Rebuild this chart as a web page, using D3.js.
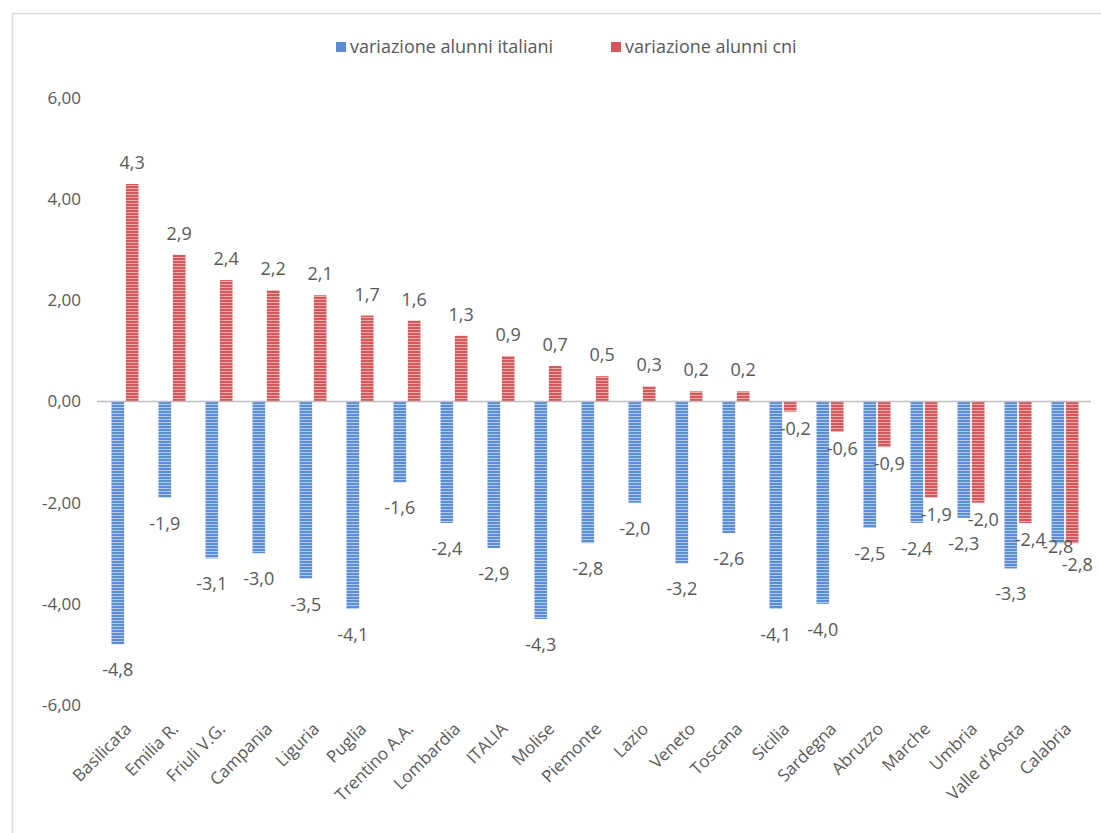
<!DOCTYPE html>
<html>
<head>
<meta charset="utf-8">
<script src="https://cdn.jsdelivr.net/npm/d3@7"></script>
<style>
  body { margin: 0; background: #fff; }
  text { font-family: "Open Sans", sans-serif; fill: #595959; }
</style>
</head>
<body>
<div class="chart"></div>
<script>
var width = 1101
var height = 833

var regioni = ['Basilicata', 'Emilia R.', 'Friuli V.G.', 'Campania', 'Liguria', 'Puglia', 'Trentino A.A.',
    'Lombardia', 'ITALIA', 'Molise', 'Piemonte', 'Lazio', 'Veneto', 'Toscana', 'Sicilia', 'Sardegna',
    'Abruzzo', 'Marche', 'Umbria', "Valle d'Aosta", 'Calabria']
var italiani = [-4.8, -1.9, -3.1, -3.0, -3.5, -4.1, -1.6, -2.4, -2.9, -4.3, -2.8, -2.0, -3.2, -2.6, -4.1, -4.0, -2.5, -2.4, -2.3, -3.3, -2.8]
var cni = [4.3, 2.9, 2.4, 2.2, 2.1, 1.7, 1.6, 1.3, 0.9, 0.7, 0.5, 0.3, 0.2, 0.2, -0.2, -0.6, -0.9, -1.9, -2.0, -2.4, -2.8]
var serieNomi = ['variazione alunni italiani', 'variazione alunni cni']
var yTicks = [-6, -4, -2, 0, 2, 4, 6]

var svg = d3.select('.chart').append('svg')
    .attr('width', width)
    .attr('height', height)

// strisce orizzontali come nel grafico excel
var defs = svg.append('defs')
var colori = [['#5a8dd6', '#b3cbef'], ['#d6575a', '#f0a9aa']]
colori.forEach(function (c, i) {
    var p = defs.append('pattern')
        .attr('id', 'strisce' + i)
        .attr('patternUnits', 'userSpaceOnUse')
        .attr('width', 4).attr('height', 3)
    p.append('rect').attr('width', 4).attr('height', 3).attr('fill', c[0])
    p.append('rect').attr('y', 2).attr('width', 4).attr('height', 1).attr('fill', c[1])
})

// cornice
svg.append('path')
    .attr('d', 'M12.5,' + height + 'V13.5H' + width)
    .attr('fill', 'none')
    .attr('stroke', '#d9d9d9')
    .attr('stroke-width', 1.5)

var y = d3.scaleLinear().domain([-6, 6]).range([705, 98])
var x = d3.scaleBand().domain(regioni).range([101, 1088]).paddingInner(0).paddingOuter(0)
var x1 = d3.scaleBand().domain([0, 1]).range([x.bandwidth() / 2 - 13, x.bandwidth() / 2 + 14]).paddingInner(0.12)

var fmt = function (v, d) { return v.toFixed(d).replace('.', ',') }

// asse y (solo etichette)
svg.append('g')
    .attr('transform', 'translate(81,0)')
    .call(d3.axisLeft(y).tickValues(yTicks).tickSize(0).tickPadding(0).tickFormat(function (d) { return fmt(d, 2) }))
    .call(function (g) { g.select('.domain').remove() })
    .selectAll('text')
    .attr('font-size', 17)
    .style('font-family', '"Open Sans", sans-serif')
    .attr('fill', '#595959')

var serie = [italiani, cni]
serie.forEach(function (vals, s) {
    var g = svg.append('g')
    g.selectAll('rect')
        .data(vals)
        .enter()
        .append('rect')
        .attr('x', function (d, i) { return x(regioni[i]) + x1(s) })
        .attr('width', x1.bandwidth())
        .attr('y', function (d) { return y(Math.max(0, d)) })
        .attr('height', function (d) { return Math.abs(y(d) - y(0)) })
        .attr('fill', 'url(#strisce' + s + ')')
})

// linea dello zero
svg.append('line')
    .attr('x1', 97).attr('x2', 1091)
    .attr('y1', y(0)).attr('y2', y(0))
    .attr('stroke', '#bfbfbf')
    .attr('stroke-width', 1.5)

// etichette dei valori
var scostNeg = [32, 23]
var ultimo = regioni.length - 1
serie.forEach(function (vals, s) {
    svg.append('g').selectAll('text')
        .data(vals)
        .enter()
        .append('text')
        .attr('x', function (d, i) { return x(regioni[i]) + x1(s) + x1.bandwidth() / 2 + (s === 1 && d < 0 ? 5 : 0) })
        .attr('y', function (d, i) {
            if (d >= 0) return y(d) - 15
            // Calabria: etichette spostate come nell'originale
            if (i === ultimo) return y(d) + (s === 0 ? 10 : 28)
            return y(d) + scostNeg[s]
        })
        .attr('text-anchor', 'middle')
        .attr('font-size', 18)
        .text(function (d) { return fmt(d, 1) })
})

// etichette asse x
svg.append('g').selectAll('text')
    .data(regioni)
    .enter()
    .append('text')
    .attr('transform', function (d) { return 'translate(' + (x(d) + x.bandwidth() / 2 + 8) + ',730) rotate(-45)' })
    .attr('text-anchor', 'end')
    .attr('font-size', 17)
    .text(function (d) { return d })

// legenda
var leg = svg.append('g').attr('transform', 'translate(336,47)')
var legX = [0, 275]
serieNomi.forEach(function (n, i) {
    leg.append('rect')
        .attr('x', legX[i]).attr('y', -5)
        .attr('width', 10).attr('height', 10)
        .attr('fill', colori[i][0])
    leg.append('text')
        .attr('x', legX[i] + 14).attr('y', 6)
        .attr('font-size', 18)
        .text(n)
})
</script>
</body>
</html>
